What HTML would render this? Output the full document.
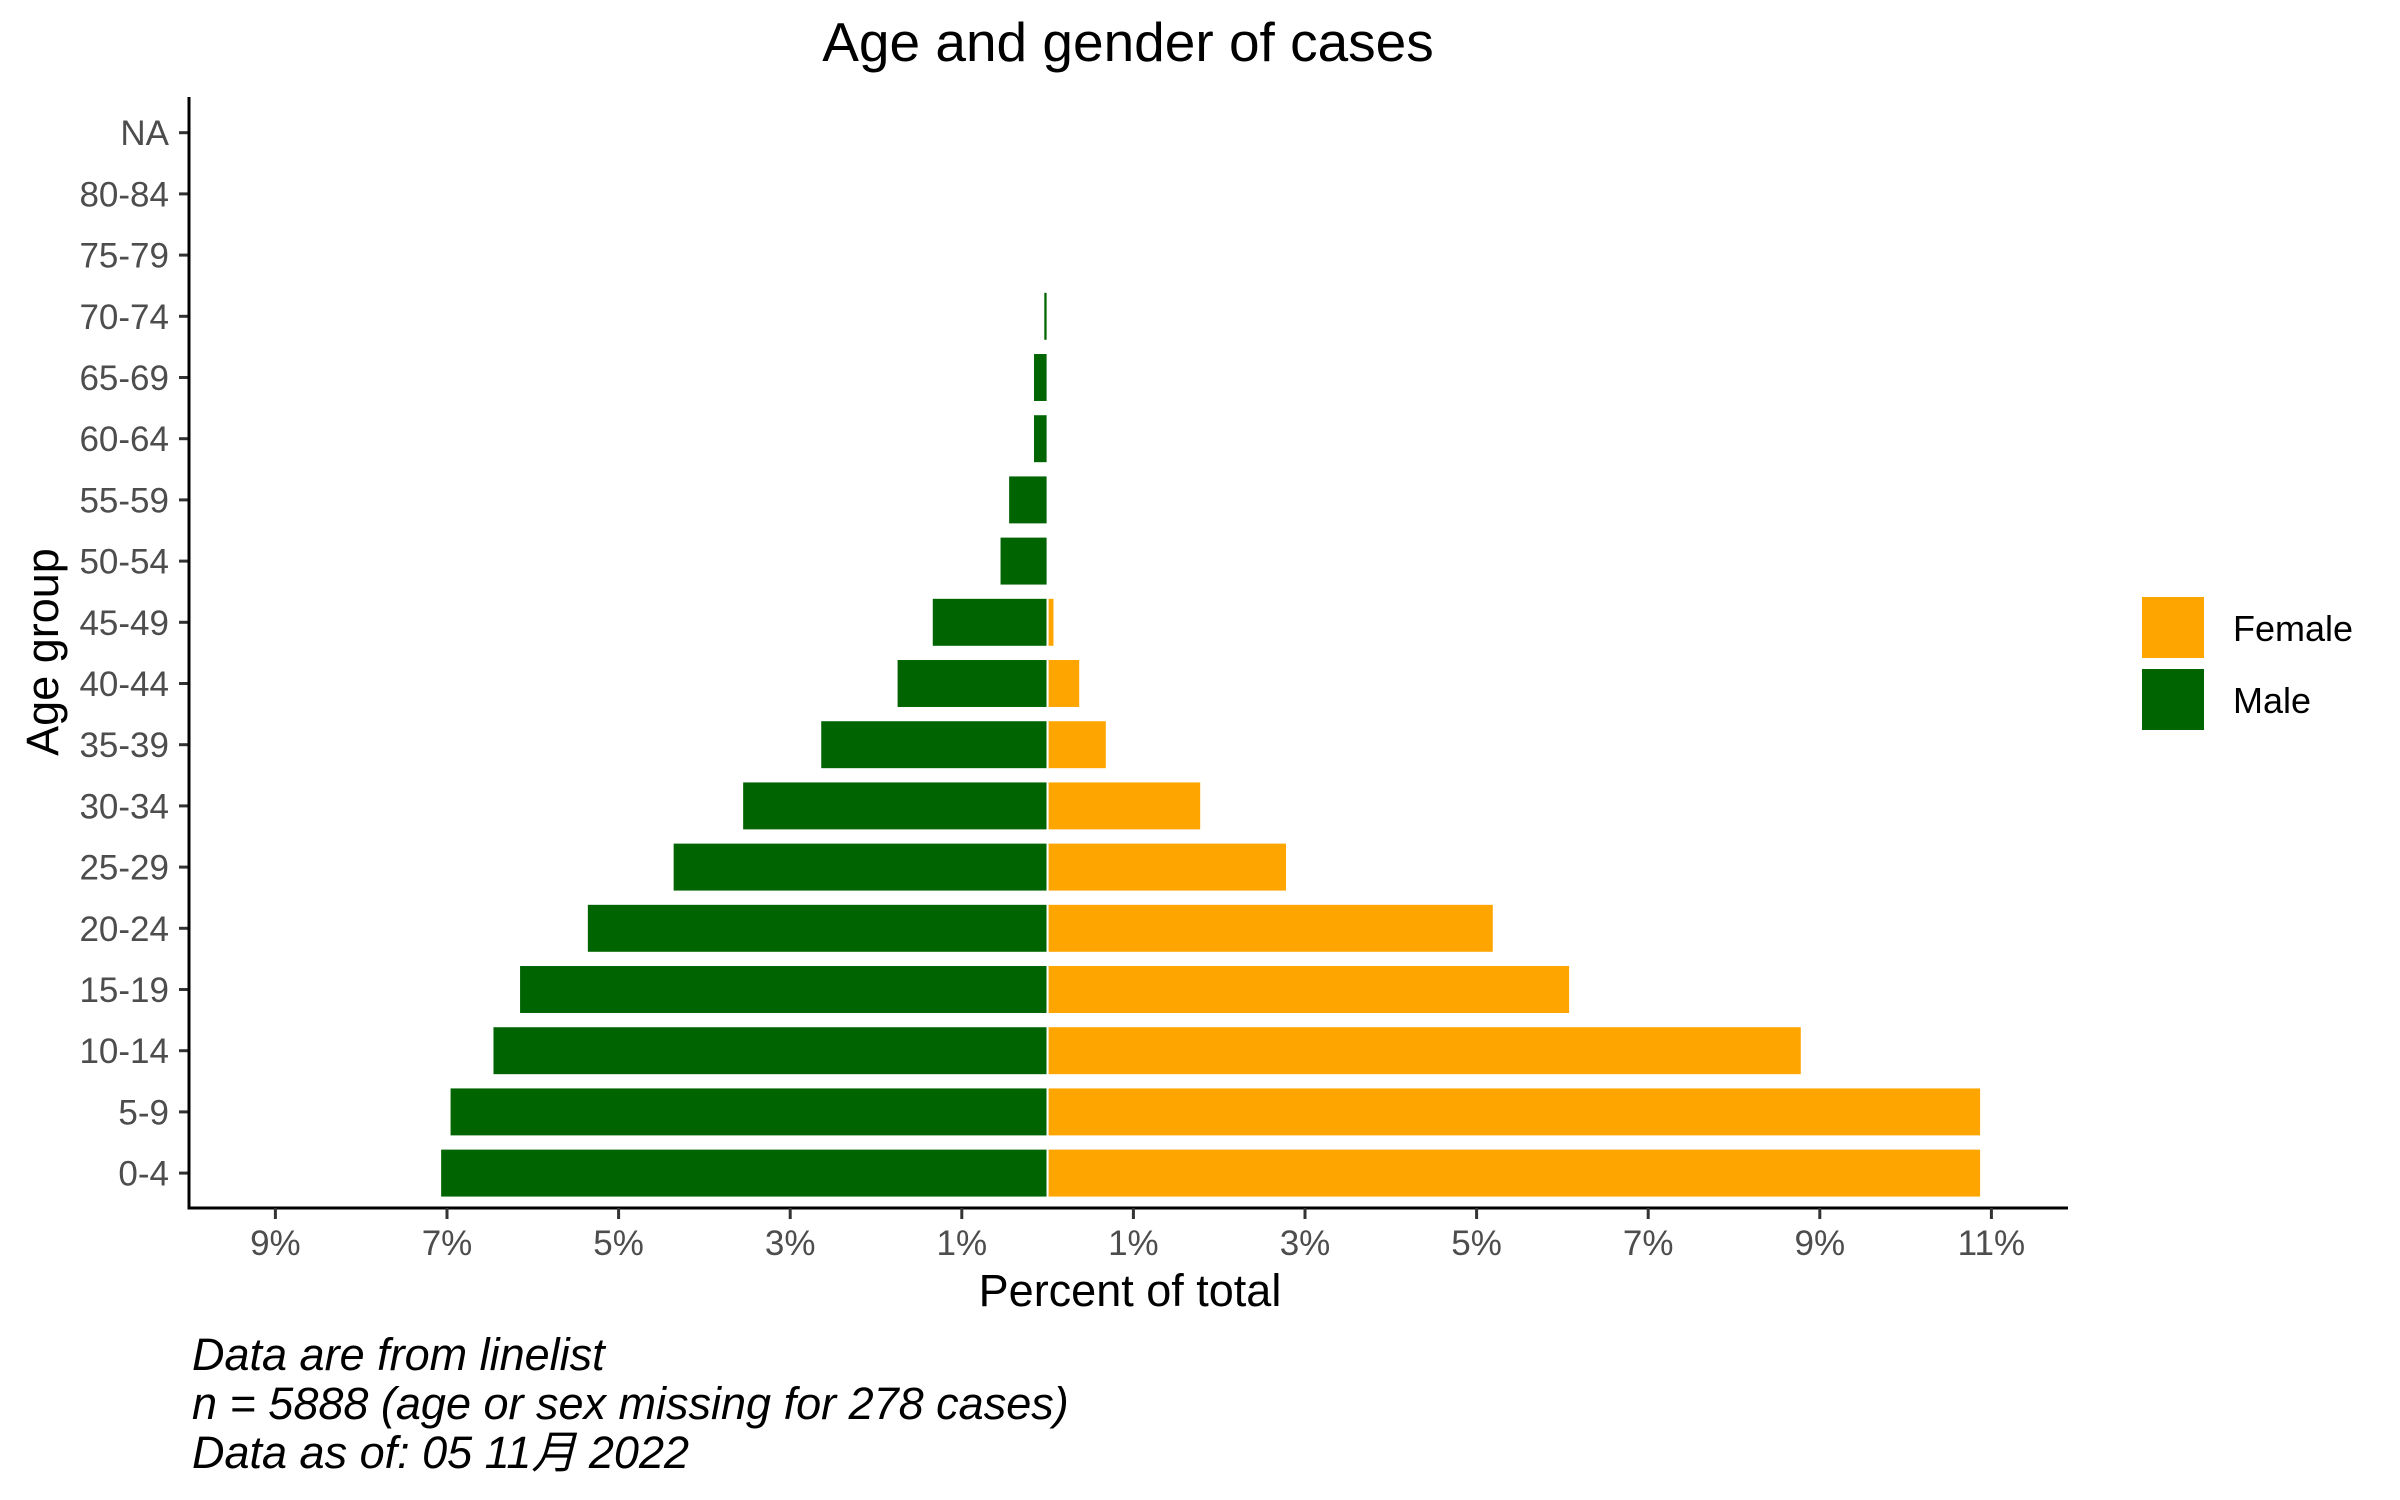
<!DOCTYPE html>
<html><head><meta charset="utf-8">
<style>
html,body{margin:0;padding:0;background:#fff;}
svg{display:block;font-family:"Liberation Sans","Noto Sans CJK SC",sans-serif;}
</style></head>
<body>
<svg id="chart" width="2400" height="1500" viewBox="0 0 2400 1500" xmlns="http://www.w3.org/2000/svg">
<rect width="2400" height="1500" fill="#fff"/>
<text x="1128" y="61" font-size="55" text-anchor="middle" fill="#000">Age and gender of cases</text>
<g id="plot"></g>
<text transform="translate(58,652) rotate(-90)" font-size="45" text-anchor="middle" fill="#000">Age group</text>
<text x="1130" y="1306" font-size="45" text-anchor="middle" fill="#000">Percent of total</text>
<g font-size="45" font-style="italic" fill="#000">
<text x="192" y="1370">Data are from linelist</text>
<text x="192" y="1419">n = 5888 (age or sex missing for 278 cases)</text>
<text x="192" y="1468">Data as of: 05 11月 2022</text>
</g>
<g>
<rect x="2142" y="597" width="62" height="61" fill="#FFA500"/>
<text x="2233" y="641" font-size="36" fill="#000">Female</text>
<rect x="2142" y="669" width="62" height="61" fill="#006400"/>
<text x="2233" y="713" font-size="36" fill="#000">Male</text>
</g>
</svg>
<script>
const categories = ["0-4","5-9","10-14","15-19","20-24","25-29","30-34","35-39","40-44","45-49","50-54","55-59","60-64","65-69","70-74","75-79","80-84","NA"];
const maleValues = [7.08,6.97,6.47,6.16,5.37,4.37,3.56,2.65,1.76,1.35,0.56,0.46,0.17,0.17,0.05,0,0,0];
const femaleValues = [10.88,10.88,8.79,6.09,5.2,2.79,1.79,0.69,0.38,0.08,0,0,0,0,0,0,0,0];
const xTicks = [-9,-7,-5,-3,-1,1,3,5,7,9,11];
const xTickLabels = ["9%","7%","5%","3%","1%","1%","3%","5%","7%","9%","11%"];

const NS="http://www.w3.org/2000/svg";
const plot=document.getElementById('plot');
const x0=1047.6, pxPer=85.8;
const xScale=v=>x0+v*pxPer;
const yTop=132.7, step=61.2;
const yScale=i=>yTop+(categories.length-1-i)*step;
const barH=step*0.8;
function mk(tag,attrs){const e=document.createElementNS(NS,tag);for(const k in attrs)e.setAttribute(k,attrs[k]);plot.appendChild(e);return e;}

categories.forEach((c,i)=>{
  const y=yScale(i);
  if(maleValues[i]>0){
    const r=mk('rect',{x:xScale(-maleValues[i]),y:y-barH/2,width:maleValues[i]*pxPer,height:barH,fill:'#006400',stroke:'#fff','stroke-width':2});
    
    
  }
  if(femaleValues[i]>0){
    const r=mk('rect',{x:xScale(0),y:y-barH/2,width:femaleValues[i]*pxPer,height:barH,fill:'#FFA500',stroke:'#fff','stroke-width':2});
    
    
  }
  const t=mk('line',{x1:179,x2:189,y1:y,y2:y,stroke:'#333','stroke-width':3});
  
  
  const l=mk('text',{x:169,y:y+12.5,'font-size':35,'text-anchor':'end',fill:'#4d4d4d'});
  l.textContent=c;
  
  
});
const ya=mk('line',{x1:189,x2:189,y1:97,y2:1209,stroke:'#000','stroke-width':3});


const xa=mk('line',{x1:187.5,x2:2068,y1:1208,y2:1208,stroke:'#000','stroke-width':3});


xTicks.forEach((v,i)=>{
  const x=xScale(v);
  const t=mk('line',{x1:x,x2:x,y1:1208,y2:1219,stroke:'#333','stroke-width':3});
  
  
  const l=mk('text',{x:x,y:1255,'font-size':35,'text-anchor':'middle',fill:'#4d4d4d'});
  l.textContent=xTickLabels[i];
  
  
});
</script>
</body></html>
